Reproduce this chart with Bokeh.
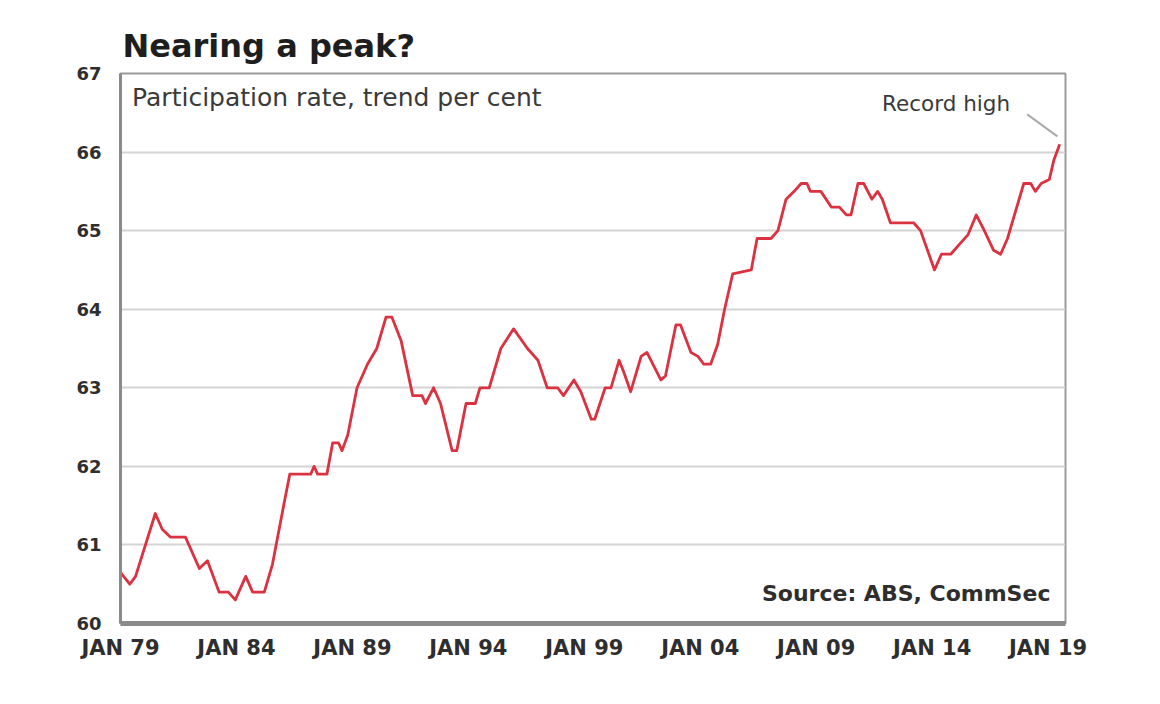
from bokeh.plotting import figure
from bokeh.models import Range1d, FixedTicker, Label, ColumnDataSource
from bokeh.embed import file_html
from bokeh.resources import INLINE

# ---- data ----
years = [1979.0, 1979.4, 1979.65, 1980.5, 1980.8, 1981.15, 1981.8, 1982.4, 1982.75, 1983.25,
         1983.65, 1983.95, 1984.4, 1984.7, 1985.2, 1985.55, 1986.1, 1986.3, 1987.2, 1987.35,
         1987.5, 1987.9, 1988.15, 1988.4, 1988.55, 1988.8, 1989.2, 1989.65, 1990.05, 1990.45,
         1990.7, 1991.1, 1991.6, 1992.0, 1992.15, 1992.5, 1992.8, 1993.3, 1993.5, 1993.9,
         1994.3, 1994.5, 1994.9, 1995.4, 1995.95, 1996.55, 1997.0, 1997.4, 1997.85, 1998.1,
         1998.55, 1998.85, 1999.3, 1999.45, 1999.9, 2000.15, 2000.5, 2000.7, 2001.0, 2001.45,
         2001.7, 2002.3, 2002.5, 2002.95, 2003.15, 2003.6, 2003.9, 2004.15, 2004.45, 2004.75,
         2005.05, 2005.4, 2006.2, 2006.45, 2007.05, 2007.35, 2007.7, 2008.05, 2008.35, 2008.6,
         2008.75, 2009.2, 2009.65, 2010.0, 2010.3, 2010.5, 2010.8, 2011.05, 2011.4, 2011.65,
         2011.85, 2012.2, 2013.2, 2013.5, 2014.1, 2014.4, 2014.8, 2015.25, 2015.55, 2015.9,
         2016.25, 2016.65, 2016.95, 2017.25, 2017.55, 2017.95, 2018.25, 2018.45, 2018.7, 2019.05,
         2019.25, 2019.5]

participation = [60.65, 60.5, 60.6, 61.4, 61.2, 61.1, 61.1, 60.7, 60.8, 60.4,
                 60.4, 60.3, 60.6, 60.4, 60.4, 60.75, 61.6, 61.9, 61.9, 62.0,
                 61.9, 61.9, 62.3, 62.3, 62.2, 62.4, 63.0, 63.3, 63.5, 63.9,
                 63.9, 63.6, 62.9, 62.9, 62.8, 63.0, 62.8, 62.2, 62.2, 62.8,
                 62.8, 63.0, 63.0, 63.5, 63.75, 63.5, 63.35, 63.0, 63.0, 62.9,
                 63.1, 62.95, 62.6, 62.6, 63.0, 63.0, 63.35, 63.2, 62.95, 63.4,
                 63.45, 63.1, 63.15, 63.8, 63.8, 63.45, 63.4, 63.3, 63.3, 63.55,
                 64.0, 64.45, 64.5, 64.9, 64.9, 65.0, 65.4, 65.5, 65.6, 65.6,
                 65.5, 65.5, 65.3, 65.3, 65.2, 65.2, 65.6, 65.6, 65.4, 65.5,
                 65.4, 65.1, 65.1, 65.0, 64.5, 64.7, 64.7, 64.85, 64.95, 65.2,
                 65.0, 64.75, 64.7, 64.9, 65.2, 65.6, 65.6, 65.5, 65.6, 65.65,
                 65.9, 66.1]

tick_years = [1979, 1984, 1989, 1994, 1999, 2004, 2009, 2014, 2019]
tick_labels = ["JAN 79", "JAN 84", "JAN 89", "JAN 94", "JAN 99",
               "JAN 04", "JAN 09", "JAN 14", "JAN 19"]
y_ticks = [60, 61, 62, 63, 64, 65, 66, 67]

title_text = "Nearing a peak?"
subtitle_text = "Participation rate, trend per cent"
source_text = "Source: ABS, CommSec"
annotation_text = "Record high"

FONT = "DejaVu Sans"

p = figure(width=1150, height=688, output_backend="svg", toolbar_location=None,
           x_range=Range1d(1979.0, 2019.75), y_range=Range1d(60, 67),
           min_border_left=120, min_border_right=85, min_border_top=73, min_border_bottom=65)

p.background_fill_color = "white"
p.border_fill_color = "white"
p.outline_line_color = "#9a9a9a"
p.outline_line_width = 2

# title
p.title.text = title_text
p.title.text_font = FONT
p.title.text_font_style = "bold"
p.title.text_font_size = "32px"
p.title.text_color = "#1e1e1e"
p.title.align = "left"
p.title.offset = 2
p.title.standoff = 18

# grid
p.xgrid.grid_line_color = None
p.ygrid.ticker = FixedTicker(ticks=y_ticks)
p.ygrid.grid_line_color = "#d4d4d4"
p.ygrid.grid_line_width = 2

# axes
xa = p.xaxis[0]
xa.ticker = FixedTicker(ticks=tick_years)
xa.major_label_overrides = {t: l for t, l in zip(tick_years, tick_labels)}
xa.axis_line_color = "#8a8a8a"
xa.axis_line_width = 5
xa.major_tick_line_color = None
xa.minor_tick_line_color = None
xa.major_label_text_font = FONT
xa.major_label_text_font_style = "bold"
xa.major_label_text_font_size = "21px"
xa.major_label_text_color = "#2e2e2e"
xa.major_label_standoff = 6

ya = p.yaxis[0]
ya.ticker = FixedTicker(ticks=y_ticks)
ya.axis_line_color = "#8a8a8a"
ya.axis_line_width = 3
ya.major_tick_line_color = None
ya.minor_tick_line_color = None
ya.major_label_text_font = FONT
ya.major_label_text_font_style = "bold"
ya.major_label_text_font_size = "18px"
ya.major_label_text_color = "#2e2e2e"
ya.major_label_standoff = 13

# data line
src = ColumnDataSource(data=dict(x=years, y=participation))
p.line("x", "y", source=src, line_color="#db3140", line_width=2.8, line_join="round")

# texts
p.add_layout(Label(x=1979.5, y=66.69, text=subtitle_text, text_font=FONT,
                   text_font_size="25px", text_color="#3a3a3a", text_baseline="middle"))
p.add_layout(Label(x=2014.6, y=66.62, text=annotation_text, text_font=FONT,
                   text_font_size="21.5px", text_color="#3a3a3a", text_baseline="middle",
                   text_align="center"))
p.add_layout(Label(x=2019.1, y=60.38, text=source_text, text_font=FONT,
                   text_font_style="bold", text_font_size="22px", text_color="#2e2e2e",
                   text_baseline="middle", text_align="right"))

# leader line to record high
last_x, last_y = years[-1], participation[-1]
p.segment(x0=[last_x - 1.4], y0=[last_y + 0.38], x1=[last_x - 0.1], y1=[last_y + 0.1],
          line_color="#aaaaaa", line_width=2)

open("out.html", "w").write(file_html(p, INLINE))
